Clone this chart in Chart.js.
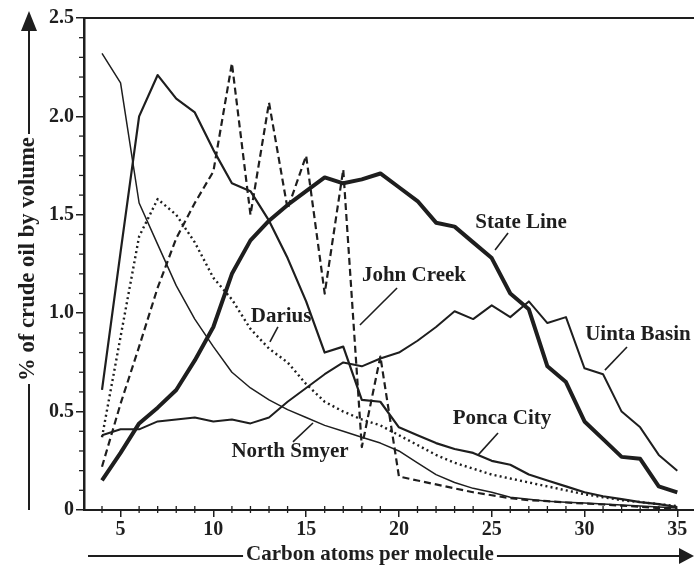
<!DOCTYPE html>
<html lang="en">
<head>
  <meta charset="UTF-8">
  <title>Crude oil composition by carbon number</title>
  <script src="https://cdn.jsdelivr.net/npm/chart.js"></script>
  <style>
    html,body{margin:0;padding:0;background:#fff}
    #wrap{width:694px;height:581px;position:relative}
  </style>
</head>
<body>
<div id="wrap"><canvas id="chart"></canvas></div>
<script>
/* ---------- data ---------- */
const carbonAtoms = [4,5,6,7,8,9,10,11,12,13,14,15,16,17,18,19,20,21,22,23,24,25,26,27,28,29,30,31,32,33,34,35];

const stateLine   = [0.15,0.29,0.44,0.52,0.61,0.76,0.93,1.20,1.37,1.47,1.55,1.62,1.69,1.66,1.68,1.71,1.64,1.57,1.46,1.44,1.36,1.28,1.10,1.02,0.73,0.65,0.45,0.36,0.27,0.26,0.12,0.09];
const uintaBasin  = [0.38,0.41,0.41,0.45,0.46,0.47,0.45,0.46,0.44,0.47,0.55,0.62,0.69,0.75,0.73,0.77,0.80,0.86,0.93,1.01,0.97,1.04,0.98,1.06,0.95,0.98,0.72,0.69,0.50,0.42,0.28,0.20];
const poncaCity   = [0.61,1.31,2.00,2.21,2.09,2.02,1.83,1.66,1.62,1.47,1.28,1.06,0.80,0.83,0.56,0.55,0.42,0.38,0.34,0.31,0.29,0.25,0.23,0.18,0.15,0.12,0.09,0.07,0.055,0.04,0.03,0.015];
const northSmyer  = [2.32,2.17,1.56,1.35,1.14,0.97,0.83,0.70,0.62,0.56,0.51,0.47,0.43,0.40,0.37,0.34,0.30,0.24,0.18,0.14,0.11,0.09,0.065,0.055,0.045,0.04,0.035,0.03,0.025,0.02,0.015,0.01];
const johnCreek   = [0.22,0.54,0.83,1.13,1.38,1.56,1.72,2.27,1.50,2.07,1.53,1.80,1.10,1.73,0.32,0.78,0.17,0.15,0.13,0.11,0.09,0.075,0.06,0.05,0.045,0.038,0.033,0.028,0.022,0.016,0.01,0.005];
const darius      = [0.37,0.88,1.39,1.58,1.50,1.36,1.18,1.07,0.92,0.82,0.75,0.64,0.55,0.50,0.46,0.43,0.38,0.33,0.28,0.24,0.21,0.18,0.16,0.14,0.12,0.10,0.08,0.065,0.05,0.04,0.03,0.02];

const xTicks = [5,10,15,20,25,30,35];
const yTicks = [0,0.5,1.0,1.5,2.0,2.5];
const yTickLabels = ['0','0.5','1.0','1.5','2.0','2.5'];

// curve names, where their text sits and where the leader line points (data units)
const curveNames = ['State Line','John Creek','Darius','North Smyer','Ponca City','Uinta Basin'];
const nameAt     = [[26.58,1.463],[20.81,1.189],[13.65,0.981],[14.13,0.295],[25.55,0.467],[32.88,0.889]];
const leaderFrom = [[25.88,1.408],[19.90,1.128],[13.48,0.930],[14.29,0.346],[25.34,0.391],[32.29,0.828]];
const leaderTo   = [[25.18,1.321],[17.90,0.940],[13.05,0.854],[15.37,0.442],[24.26,0.279],[31.10,0.711]];

/* ---------- drawing ---------- */
const ink = '#1e1e1e';
const serif = '"Liberation Serif", "DejaVu Serif", serif';

function pts(arr){ return carbonAtoms.map((c,i)=>({x:c, y:arr[i]})); }
function series(label, arr, width, dash){
  return {label, data:pts(arr), borderColor:ink, borderWidth:width, borderDash:dash || [],
          pointRadius:0, tension:0, fill:false, borderCapStyle:'butt', borderJoinStyle:'round'};
}

function seg(ctx,x1,y1,x2,y2){ ctx.beginPath(); ctx.moveTo(x1,y1); ctx.lineTo(x2,y2); ctx.stroke(); }

const decor = {
  id:'decor',
  afterDraw(chart){
    const {ctx, chartArea:a, scales:{x, y}} = chart;
    ctx.save();
    ctx.strokeStyle = ink; ctx.fillStyle = ink;

    // top frame line
    ctx.lineWidth = 2;
    seg(ctx, a.left, a.top, a.right, a.top);

    // minor ticks
    ctx.lineWidth = 1.3;
    for(let c = 4; c <= 35; c++){
      if(c % 5 === 0) continue;
      const px = x.getPixelForValue(c);
      seg(ctx, px, a.bottom - 4, px, a.bottom + 3);
    }
    for(let k = 1; k < 25; k++){
      if(k % 5 === 0) continue;
      const py = y.getPixelForValue(k / 10);
      seg(ctx, a.left - 5, py, a.left, py);
    }

    // curve names + leader lines
    ctx.font = 'bold 21px ' + serif;
    ctx.textAlign = 'center'; ctx.textBaseline = 'middle';
    ctx.lineWidth = 1.6;
    curveNames.forEach((name,i)=>{
      ctx.fillText(name, x.getPixelForValue(nameAt[i][0]), y.getPixelForValue(nameAt[i][1]));
      seg(ctx, x.getPixelForValue(leaderFrom[i][0]), y.getPixelForValue(leaderFrom[i][1]),
               x.getPixelForValue(leaderTo[i][0]),   y.getPixelForValue(leaderTo[i][1]));
    });

    // x axis title with arrow
    const xt = 'Carbon atoms per molecule';
    const cx = 370, cy = 555;
    ctx.font = 'bold 21px ' + serif;
    const wx = ctx.measureText(xt).width;
    ctx.fillText(xt, cx, cy);
    ctx.lineWidth = 2;
    seg(ctx, 88, cy + 1, cx - wx/2 - 3, cy + 1);
    seg(ctx, cx + wx/2 + 3, cy + 1, 682, cy + 1);
    ctx.beginPath(); ctx.moveTo(694, cy + 1); ctx.lineTo(679, cy - 7); ctx.lineTo(679, cy + 9); ctx.closePath(); ctx.fill();

    // y axis title with arrow
    const yt = '% of crude oil by volume';
    const tx = 28, ty = 259;
    ctx.font = 'bold 22.7px ' + serif;
    const wy = ctx.measureText(yt).width;
    ctx.save();
    ctx.translate(tx, ty); ctx.rotate(-Math.PI/2);
    ctx.fillText(yt, 0, 0);
    ctx.restore();
    seg(ctx, tx + 1, 510, tx + 1, ty + wy/2 + 3);
    seg(ctx, tx + 1, ty - wy/2 - 3, tx + 1, 28);
    ctx.beginPath(); ctx.moveTo(tx + 1, 11); ctx.lineTo(tx - 7, 31); ctx.lineTo(tx + 9, 31); ctx.closePath(); ctx.fill();

    ctx.restore();
  }
};

new Chart(document.getElementById('chart'), {
  type:'line',
  data:{datasets:[
    series('State Line', stateLine, 4),
    series('Uinta Basin', uintaBasin, 2),
    series('Ponca City', poncaCity, 2.2),
    series('North Smyer', northSmyer, 1.5),
    series('John Creek', johnCreek, 2.2, [7,4]),
    series('Darius', darius, 2.4, [2,3.2])
  ]},
  options:{
    responsive:true, maintainAspectRatio:false, animation:false,
    layout:{padding:{top:18, right:0, left:0, bottom:0}},
    plugins:{legend:{display:false}, tooltip:{enabled:false}},
    scales:{
      x:{
        type:'linear', min:3.03, max:35.9,
        afterBuildTicks:s=>{ s.ticks = xTicks.map(v=>({value:v})); },
        afterFit:s=>{ s.height = 71; },
        grid:{drawOnChartArea:false, drawTicks:true, tickLength:7, color:ink, lineWidth:1.5},
        border:{display:true, color:ink, width:2},
        ticks:{color:ink, padding:1, maxRotation:0, font:{family:serif, size:20, weight:'bold'}}
      },
      y:{
        min:0, max:2.5,
        afterBuildTicks:s=>{ s.ticks = yTicks.map(v=>({value:v})); },
        afterFit:s=>{ s.width = 84; },
        grid:{drawOnChartArea:false, drawTicks:true, tickLength:8, color:ink, lineWidth:1.5},
        border:{display:true, color:ink, width:2.5},
        ticks:{color:ink, padding:2,
               callback:(v)=>{ const i = yTicks.indexOf(v); return i >= 0 ? yTickLabels[i] : ''; },
               font:{family:serif, size:20, weight:'bold'}}
      }
    }
  },
  plugins:[decor]
});
</script>
</body>
</html>
